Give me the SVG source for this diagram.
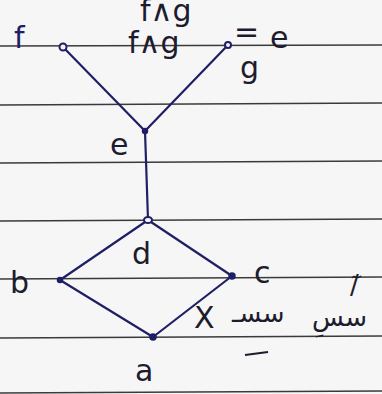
<svg xmlns="http://www.w3.org/2000/svg" width="382" height="394" viewBox="0 0 382 394">
<style>
.paper{stroke:#3a3a3a;stroke-width:1.6;fill:none}
.edge{stroke:#1f1f66;stroke-width:2.2;fill:none;stroke-linecap:round}
.node{fill:#1f1f66;stroke:#1f1f66;stroke-width:1.5}
.open{fill:#f4f4f4;stroke:#1f1f66;stroke-width:2}
.lbl{font-family:"DejaVu Sans","Liberation Sans",sans-serif;font-size:30px;fill:#1c1c2e}
.ink{fill:#1f1f66}
.ar{font-family:"DejaVu Sans","Noto Sans",sans-serif;font-size:26px;fill:#1c1c2e}
</style>
<rect width="382" height="394" fill="#f6f6f6"/>
<g id="paper-lines">
<line class="paper" x1="0" y1="46" x2="382" y2="45"/>
<line class="paper" x1="0" y1="105" x2="382" y2="103"/>
<line class="paper" x1="0" y1="163" x2="382" y2="161"/>
<line class="paper" x1="0" y1="221" x2="382" y2="219"/>
<line class="paper" x1="0" y1="279" x2="382" y2="277"/>
<line class="paper" x1="0" y1="338" x2="382" y2="336"/>
<line class="paper" x1="0" y1="393" x2="382" y2="391"/>
</g>
<g id="connectors">
<line class="edge" x1="63" y1="47" x2="145" y2="131"/>
<line class="edge" x1="228" y1="45" x2="145" y2="131"/>
<line class="edge" x1="145" y1="131" x2="148" y2="220"/>
<line class="edge" x1="148" y1="220" x2="60" y2="280"/>
<line class="edge" x1="148" y1="220" x2="232" y2="276"/>
<line class="edge" x1="60" y1="280" x2="153" y2="337"/>
<line class="edge" x1="232" y1="276" x2="153" y2="337"/>
</g>
<g id="node-f"><circle class="open" cx="63" cy="47" r="3.5"/><text class="lbl ink" x="14" y="48">f</text></g>
<g id="node-g"><circle class="open" cx="228" cy="45" r="3"/><text class="lbl" x="240" y="78">g</text></g>
<g id="node-e"><circle class="node" cx="145" cy="131" r="2.5"/><text class="lbl" x="110" y="155">e</text></g>
<g id="node-d"><ellipse class="open" cx="148" cy="220" rx="4" ry="3"/><text class="lbl" x="132" y="264">d</text></g>
<g id="node-b"><circle class="node" cx="60" cy="280" r="2.5"/><text class="lbl" x="10" y="293">b</text></g>
<g id="node-c"><circle class="node" cx="232" cy="276" r="3"/><text class="lbl" x="254" y="283">c</text></g>
<g id="node-a"><circle class="node" cx="153" cy="337" r="3"/><text class="lbl" x="135" y="381">a</text></g>
<g id="notes">
<text class="lbl" x="140" y="21" font-size="14">f∧g</text>
<text class="lbl" x="128" y="53">f∧g</text>
<text class="lbl" x="234" y="42" font-size="24">=</text>
<text class="lbl" x="270" y="48">e</text>
<text class="lbl" x="194" y="328" font-size="40">X</text>
<text class="ar" x="232" y="322">سسـ</text>
<line x1="245" y1="355" x2="268" y2="352" stroke="#1c1c2e" stroke-width="2"/>
<text class="ar" x="312" y="326">سسِ</text>
<text class="ar" x="350" y="294" font-size="22">/ٓ</text>
</g>
</svg>
